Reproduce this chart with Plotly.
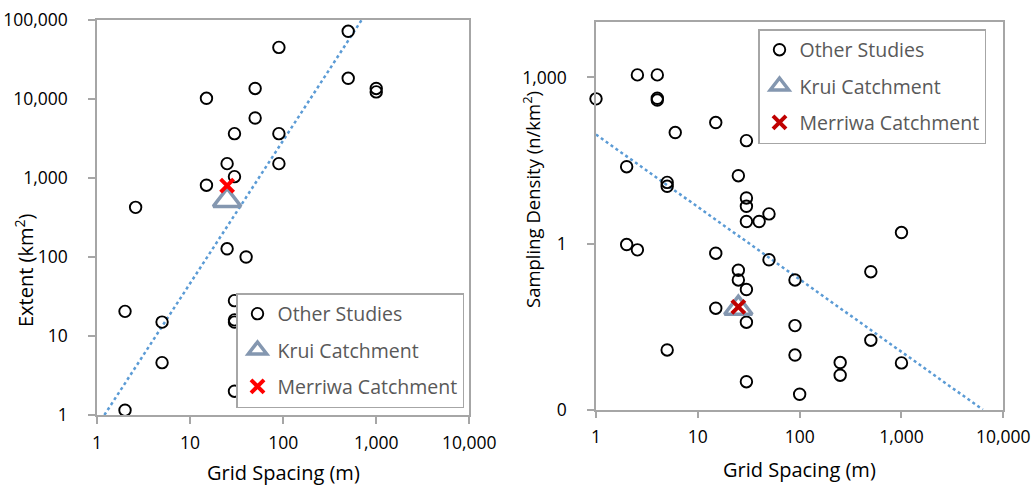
import plotly.graph_objects as go

W, H = 1033, 486
FONT = "Open Sans"

# ---- tick labels ----
x_tick_vals = [1, 10, 100, 1000, 10000]
x_tick_text = ["1", "10", "100", "1,000", "10,000"]
left_y_tick_vals = [1, 10, 100, 1000, 10000, 100000]
left_y_tick_text = ["1", "10", "100", "1,000", "10,000", "100,000"]
right_y_tick_vals = [0.001, 1, 1000]
right_y_tick_text = ["0", "1", "1,000"]

# ---- left panel: Extent vs grid spacing ----
left_other_x = [500, 90, 500, 1000, 1000, 15, 50, 50, 30, 90, 25, 90, 30, 15, 2.6,
                25, 40, 30, 30, 30, 2, 5, 5, 30, 2]
left_other_y = [72000, 45000, 18300, 13600, 12300, 10200, 13600, 5750, 3640, 3640,
                1520, 1520, 1040, 810, 425, 127, 100, 28, 16, 15, 20.5, 15, 4.6, 2.0, 1.15]
left_krui_x = [25]
left_krui_y = [520]
left_merriwa_x = [25]
left_merriwa_y = [800]
left_trend_x = [1.2, 697]
left_trend_y = [1, 100000]

# ---- right panel: Sampling density vs grid spacing ----
right_other_x = [1, 2.55, 4, 4, 4, 15, 6, 30, 2, 25, 5, 5, 30, 30, 30, 40, 50, 1000,
                 2, 2.55, 15, 50, 25, 25, 30, 500, 90, 15, 30, 90, 5, 90, 500, 250, 250,
                 1000, 30, 100]
right_other_y = [410, 1110, 1110, 420, 390, 153, 101, 72, 24.4, 16.8, 12.7, 10.8, 6.66,
                 4.7, 2.5, 2.5, 3.43, 1.58, 0.96, 0.77, 0.67, 0.51, 0.33, 0.22, 0.148,
                 0.31, 0.22, 0.068, 0.038, 0.033, 0.012, 0.0097, 0.018, 0.0071, 0.0042,
                 0.0070, 0.0032, 0.0019]
right_krui_x = [25]
right_krui_y = [0.068]
right_merriwa_x = [25]
right_merriwa_y = [0.072]
right_trend_x = [1, 6300]
right_trend_y = [93, 0.001]

series_names = ["Other Studies", "Krui Catchment", "Merriwa Catchment"]

AXIS_GREY = "#A6A6A6"
TREND_BLUE = "#5B9BD5"
KRUI_COL = "#8497B0"


def px_x(p):
    return p / W


def px_y(p):
    return 1 - p / H


fig = go.Figure()

panels = [
    dict(xa="x", ya="y", leg="legend", other=(left_other_x, left_other_y),
         krui=(left_krui_x, left_krui_y), mer=(left_merriwa_x, left_merriwa_y),
         trend=(left_trend_x, left_trend_y), mcol="#FF0000"),
    dict(xa="x2", ya="y2", leg="legend2", other=(right_other_x, right_other_y),
         krui=(right_krui_x, right_krui_y), mer=(right_merriwa_x, right_merriwa_y),
         trend=(right_trend_x, right_trend_y), mcol="#C00000"),
]

for p in panels:
    fig.add_trace(go.Scatter(
        x=p["trend"][0], y=p["trend"][1], mode="lines", xaxis=p["xa"], yaxis=p["ya"],
        line=dict(color=TREND_BLUE, width=2.5, dash="dot"), showlegend=False,
        hoverinfo="skip"))
    fig.add_trace(go.Scatter(
        x=p["other"][0], y=p["other"][1], mode="markers", name=series_names[0],
        xaxis=p["xa"], yaxis=p["ya"], legend=p["leg"], legendgroup="g1",
        cliponaxis=False,
        marker=dict(symbol="circle-open", size=11.5, color="black",
                    line=dict(width=1.9, color="black"))))
    fig.add_trace(go.Scatter(
        x=p["krui"][0], y=p["krui"][1], mode="markers", name=series_names[1],
        xaxis=p["xa"], yaxis=p["ya"], legend=p["leg"], legendgroup="g2",
        cliponaxis=False,
        marker=dict(symbol="triangle-up-open", size=24, color=KRUI_COL,
                    line=dict(width=3.5, color=KRUI_COL))))
    fig.add_trace(go.Scatter(
        x=p["mer"][0], y=p["mer"][1], mode="markers", name=series_names[2],
        xaxis=p["xa"], yaxis=p["ya"], legend=p["leg"], legendgroup="g3",
        cliponaxis=False,
        marker=dict(symbol="x-thin", size=13, color=p["mcol"],
                    line=dict(width=4, color=p["mcol"]))))

tick_font = dict(family=FONT, size=17.5, color="black")
common = dict(type="log", showgrid=False, zeroline=False, showline=True, mirror=True,
              linecolor=AXIS_GREY, linewidth=1.5, ticks="outside", ticklen=7,
              tickcolor=AXIS_GREY, tickwidth=1.5, tickfont=tick_font,
              fixedrange=True, automargin=False)
xcommon = dict(common, ticklabelstandoff=4)
ycommon = dict(common, ticklabelstandoff=17)

legend_common = dict(xanchor="left", yanchor="top", bgcolor="white",
                     bordercolor=AXIS_GREY, borderwidth=1.5,
                     font=dict(family=FONT, size=19.5, color="#595959"),
                     tracegroupgap=8, itemsizing="trace")

fig.update_layout(
    template="none",
    width=W, height=H, autosize=False,
    margin=dict(l=0, r=0, t=0, b=0, pad=0),
    paper_bgcolor="white", plot_bgcolor="white",
    font=dict(family=FONT, color="black"),
    xaxis=dict(xcommon, domain=[px_x(97), px_x(469.3)], range=[0, 4],
               tickvals=x_tick_vals, ticktext=x_tick_text, anchor="y"),
    yaxis=dict(ycommon, domain=[px_y(415), px_y(20)], range=[0, 5],
               tickvals=left_y_tick_vals, ticktext=left_y_tick_text, anchor="x"),
    xaxis2=dict(xcommon, domain=[px_x(596), px_x(1003.3)], range=[0, 4],
                tickvals=x_tick_vals, ticktext=x_tick_text, anchor="y2"),
    yaxis2=dict(ycommon, domain=[px_y(409.7), px_y(22)], range=[-3, 4],
                tickvals=right_y_tick_vals, ticktext=right_y_tick_text, anchor="x2"),
    legend=dict(legend_common, x=px_x(236), y=px_y(293)),
    legend2=dict(legend_common, x=px_x(758), y=px_y(29)),
    showlegend=True,
)

title_font = dict(family=FONT, size=20, color="black")
fig.add_annotation(text="Grid Spacing (m)", x=px_x(283), y=px_y(472), xref="paper",
                   yref="paper", showarrow=False, font=title_font,
                   xanchor="center", yanchor="middle")
fig.add_annotation(text="Grid Spacing (m)", x=px_x(799), y=px_y(469), xref="paper",
                   yref="paper", showarrow=False, font=title_font,
                   xanchor="center", yanchor="middle")
fig.add_annotation(text="Extent (km<sup>2</sup>)", x=px_x(24), y=px_y(271), xref="paper",
                   yref="paper", showarrow=False, font=title_font, textangle=-90,
                   xanchor="center", yanchor="middle")
fig.add_annotation(text="Sampling Density (n/km<sup>2</sup>)", x=px_x(531), y=px_y(200),
                   xref="paper", yref="paper", showarrow=False,
                   font=dict(family=FONT, size=18.5, color="black"),
                   textangle=-90, xanchor="center", yanchor="middle")

fig.write_html("out.html")
